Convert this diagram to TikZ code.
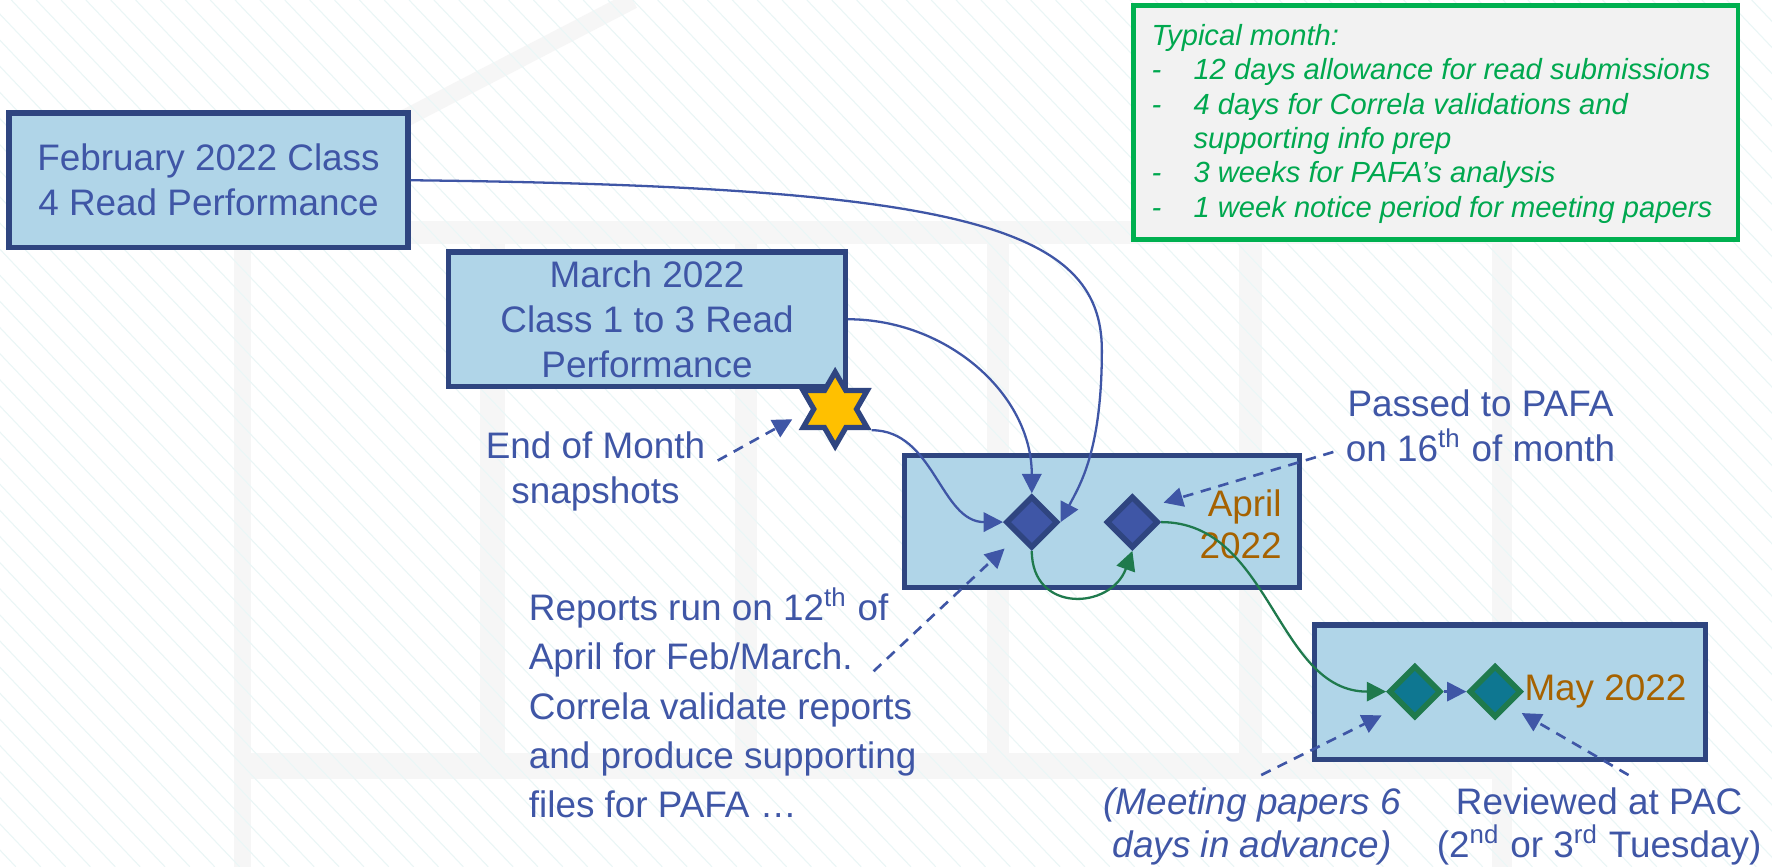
\documentclass[tikz,border=0pt]{standalone}
\usepackage{fontspec}
\setmainfont{Liberation Sans}
\usetikzlibrary{shapes.geometric,arrows.meta}

\definecolor{boxfill}{HTML}{B0D5E8}
\definecolor{boxline}{HTML}{2F4580}
\definecolor{textblue}{HTML}{3F56A6}
\definecolor{monthorange}{HTML}{A66200}
\definecolor{pathgreen}{HTML}{1F7A4D}
\definecolor{notegreen}{HTML}{00B050}
\definecolor{notetext}{HTML}{00A84F}
\definecolor{notefill}{HTML}{F2F2F2}
\definecolor{starfill}{HTML}{FFC000}
\definecolor{tealfill}{HTML}{0E7791}
\definecolor{gridgray}{HTML}{F6F6F6}
\definecolor{hatch}{HTML}{EAF6F6}

\newcommand{\notedash}{\makebox[0.42cm][l]{-}}
\newcommand{\noteindent}{\makebox[0.42cm][l]{}}

\begin{document}
\begin{tikzpicture}[x=0.0113cm,y=0.0113cm,
    >={Triangle[length=5.5pt,width=5.5pt]},
    monthbox/.style={draw=boxline,line width=1.5pt,fill=boxfill,text=textblue,
        align=center,font=\fontsize{10.5}{12.8}\selectfont,inner sep=0pt},
    milestone/.style={diamond,draw=boxline,line width=1.6pt,fill=textblue,
        inner sep=0pt,minimum size=0.52cm},
    calltext/.style={text=textblue,align=center,font=\fontsize{10.5}{12.8}\selectfont},
    bluelink/.style={->,draw=textblue,line width=0.65pt},
    greenlink/.style={->,draw=pathgreen,line width=0.65pt},
    pointer/.style={->,draw=textblue,line width=0.75pt,dash pattern=on 3pt off 2.2pt},
]
\useasboundingbox (0,0) rectangle (1568,-767);
\fill[white] (0,0) rectangle (1568,-767);

% Draw the faint calendar grid behind everything
\draw[gridgray,line width=5pt] (300,-135) -- (560,0);
\fill[gridgray] (207,-196) rectangle (1338,-767);
\foreach \x in {222,447,670,893,1117} {
    \fill[white] (\x,-216) rectangle ++(203,-450);
}
\fill[white] (222,-689) rectangle (1320,-790);

% Draw the hatching
\begin{scope}
    \clip (0,0) rectangle (1568,-767);
    \foreach \x in {-760,-738,...,1568} {
        \draw[hatch,line width=0.3pt] (\x,0) -- ++(730,-767);
    }
\end{scope}

% Draw the month boxes
\node[monthbox,minimum width=3.99cm,minimum height=1.345cm] (feb) at (184.5,-159.5) {February 2022 Class\\4 Read Performance};
\node[monthbox,minimum width=3.966cm,minimum height=1.345cm] (mar) at (572.5,-282.5) {March 2022\\Class 1 to 3 Read\\Performance};
\node[monthbox,minimum width=3.955cm,minimum height=1.322cm] (apr) at (975,-461.5) {};
\node[monthbox,minimum width=3.91cm,minimum height=1.345cm] (may) at (1336,-612.5) {};
\node[text=monthorange,align=right,anchor=east,font=\fontsize{10.5}{12.2}\selectfont] (aprlabel) at (1145,-464) {April\\2022};
\node[text=monthorange,anchor=west,font=\fontsize{10.5}{12.2}\selectfont] (maylabel) at (1338,-612) {May 2022};

% Draw the snapshot star and the milestones
\node[star,star points=6,star point ratio=1.73,draw=boxline,line width=1.5pt,fill=starfill,
    minimum size=0.74cm,inner sep=0pt] (snap) at (739,-362) {};
\node[milestone] (run) at (913,-462) {};
\node[milestone] (pass) at (1002,-462) {};
\node[milestone,fill=tealfill,draw=pathgreen] (papers) at (1252,-612) {};
\node[milestone,fill=tealfill,draw=pathgreen] (review) at (1323,-612) {};

% Draw the typical month note
\node[draw=notegreen,line width=1.4pt,fill=notefill,minimum width=6.046cm,minimum height=2.339cm] (note) at (1270.5,-108.5) {};
\node[anchor=west,align=left,text=notetext,font=\fontsize{8.3}{9.8}\selectfont\itshape] (notebody) at (1008,-109.5) {Typical month:\\
    \notedash 12 days allowance for read submissions\\
    \notedash 4 days for Correla validations and\\
    \noteindent supporting info prep\\
    \notedash 3 weeks for PAFA’s analysis\\
    \notedash 1 week notice period for meeting papers};

% Draw the callout texts
\node[calltext] (eom) at (527,-417) {End of Month\\snapshots};
\node[calltext,align=left,anchor=west,font=\fontsize{10.5}{14}\selectfont] (reports) at (457,-622) {Reports run on 12\textsuperscript{th} of\\April for Feb/March.\\Correla validate reports\\and produce supporting\\files for PAFA …};
\node[calltext] (passed) at (1310,-377) {Passed to PAFA\\on 16\textsuperscript{th} of month};
\node[calltext,font=\fontsize{10.5}{12.2}\selectfont\itshape] (meeting) at (1108,-731) {(Meeting papers 6\\days in advance)};
\node[calltext,font=\fontsize{10.5}{12.2}\selectfont] (reviewed) at (1415,-731) {Reviewed at PAC\\(2\textsuperscript{nd} or 3\textsuperscript{rd} Tuesday)};

% Draw the arrows for the path
\draw[bluelink] (feb.east) .. controls (850,-165) and (975,-200) .. (975,-310) .. controls (975,-400) and (955,-430) .. (run.east);
\draw[bluelink] (mar.east) to[out=0,in=90] (run.north);
\draw[bluelink] (snap.outer point 5) to[out=0,in=180] (run.west);
\draw[greenlink] (run.south) to[out=-90,in=-110,looseness=1.6] (pass.south);
\draw[greenlink] (pass.east) to[out=0,in=180] (papers.west);
\draw[bluelink] (papers.east) -- (review.west);

% Draw the dashed pointers
\coordinate (reportsfrom) at (773,-594);
\draw[pointer,shorten >=6pt] (eom.5) -- (snap.west);
\draw[pointer,shorten >=5pt] (reportsfrom) -- (run.south west);
\draw[pointer,shorten >=5pt] (passed.190) -- (pass.north east);
\draw[pointer,shorten >=6pt] (meeting.80) -- (papers.south west);
\draw[pointer,shorten >=4pt] (reviewed.60) -- (review.south east);

\end{tikzpicture}
\end{document}
